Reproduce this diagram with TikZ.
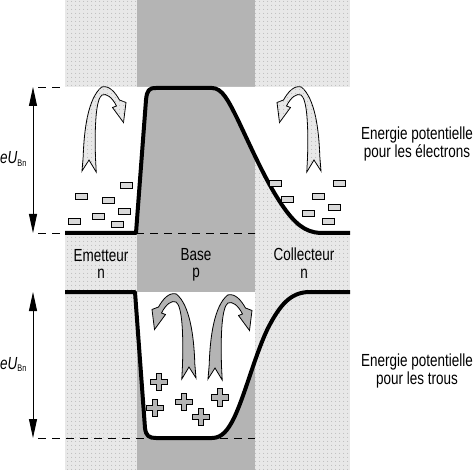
\documentclass[tikz,border=0pt]{standalone}
\usepackage{fontspec}
\setmainfont{Liberation Sans}[FakeStretch=0.77]
\usetikzlibrary{arrows.meta,patterns.meta}
\definecolor{stip}{RGB}{232,232,232}
\definecolor{dotc}{RGB}{165,165,165}
\definecolor{basegray}{RGB}{180,180,180}
\tikzset{
  stipple/.style={fill=stip, postaction={pattern={Dots[distance=4pt,radius=0.5pt]}, pattern color=dotc}},
  basefill/.style={fill=basegray},
  band/.style={line width=4pt, line join=round},
  guide/.style={line width=0.9pt, dash pattern=on 8pt off 6pt},
  dimarrow/.style={line width=0.9pt, {Triangle[length=19pt,width=8pt]}-{Triangle[length=19pt,width=8pt]}},
  electron/.style={draw=black, line width=0.8pt, fill=gray!30},
  holestyle/.style={draw=black, line width=0.9pt, fill=basegray},
  lbl/.style={inner sep=0pt, font=\fontsize{17.5}{17.5}\selectfont, align=center},
  ulbl/.style={inner sep=0pt, font=\fontsize{17.5}{17.5}\selectfont},
}
\newcommand\mybigarrow[1]{\filldraw[line width=0.8pt, #1] (82,171) -- (83.2,156.7) .. controls (84,130) and (88,98) .. (101.7,87) .. controls (109,85) and (115,92) .. (119.5,100) -- (126,102.5) -- (123.5,122.5) -- (112.5,107.5) -- (116.5,106) .. controls (112,97) and (106,93) .. (102,95) .. controls (96,99) and (94.5,125) .. (95.5,158) -- (96.2,172) -- (89,160) -- cycle;}
\newcommand\elec[1]{\draw[electron, shift={(#1)}] (-6,-3) rectangle (6,3);}
\newcommand\hole[1]{\filldraw[holestyle, shift={(#1)}] (-2.9,-8.7) -- (2.9,-8.7) -- (2.9,-2.9) -- (8.7,-2.9) -- (8.7,2.9) -- (2.9,2.9) -- (2.9,8.7) -- (-2.9,8.7) -- (-2.9,2.9) -- (-8.7,2.9) -- (-8.7,-2.9) -- (-2.9,-2.9) -- cycle;}
\begin{document}
\begin{tikzpicture}[x=1pt,y=-1pt]
\useasboundingbox (0,0) rectangle (474,473);
% columns
\path[stipple] (65,0) rectangle (137,470);
\path[basefill] (137,0) rectangle (255,470);
\path[stipple] (255,0) rectangle (350,470);
% white region above upper curve
\begin{scope}
\clip (65,87) rectangle (350,233);
\fill[white] (65,233) -- (136,233) -- (146,100) .. controls (147,90) and (149,88) .. (156,88) -- (212,88) .. controls (222,88) and (228,100) .. (237,118) .. controls (250,145) and (265,180) .. (282,205) .. controls (295,224) and (305,232) .. (320,233) -- (350,233) -- (350,87) -- (65,87) -- cycle;
\end{scope}
% white well in lower diagram
\begin{scope}
\clip (137,292) rectangle (255,470);
\fill[white] (135,292) -- (145,428) .. controls (146,436) and (149,438) .. (156,438) -- (212,438) .. controls (222,438) and (228,430) .. (234,418) .. controls (245,395) and (255,355) .. (268,328) .. controls (280,305) and (290,293) .. (308,292) -- cycle;
\end{scope}
% guides
\coordinate (g1a) at (38,87); \coordinate (g1b) at (65,87);
\coordinate (g2a) at (38,233); \coordinate (g2b) at (255,233);
\coordinate (g3a) at (38,438); \coordinate (g3b) at (255,438);
\draw[guide] (g1a) -- (g1b);
\draw[guide] (g2a) -- (g2b);
\draw[guide] (g3a) -- (g3b);
\coordinate (d1a) at (33,87); \coordinate (d1b) at (33,233);
\coordinate (d2a) at (33,292); \coordinate (d2b) at (33,438);
\draw[dimarrow] (d1a) -- (d1b);
\draw[dimarrow] (d2a) -- (d2b);
% band curves
\draw[band] (65,233) -- (136,233) -- (146,100) .. controls (147,90) and (149,88) .. (156,88) -- (212,88) .. controls (222,88) and (228,100) .. (237,118) .. controls (250,145) and (265,180) .. (282,205) .. controls (295,224) and (305,232) .. (320,233) -- (350,233);
\draw[band] (65,292) -- (135,292) -- (145,428) .. controls (146,436) and (149,438) .. (156,438) -- (212,438) .. controls (222,438) and (228,430) .. (234,418) .. controls (245,395) and (255,355) .. (268,328) .. controls (280,305) and (290,293) .. (308,292) -- (350,292);
% electrons
\elec{126,185} \elec{81.5,196} \elec{108,200} \elec{124.5,211} \elec{98.5,216} \elec{74.5,221} \elec{117.5,224}
\elec{275,183.5} \elec{339.5,183.5} \elec{287.5,199.5} \elec{318,196.5} \elec{334.5,207.5} \elec{308,213.5} \elec{328,221.5}
% holes
\hole{159,382} \hole{155,408} \hole{184,402} \hole{201,417} \hole{220,397.5}
% curved arrows
\mybigarrow{stipple}
\begin{scope}[shift={(403,0)}, xscale=-1]
\mybigarrow{stipple}
\end{scope}
\begin{scope}[shift={(278,207)}, xscale=-1]
\mybigarrow{basefill}
\end{scope}
\begin{scope}[shift={(126,208)}]
\mybigarrow{basefill}
\end{scope}
% labels
\node[lbl, anchor=north] (em) at (101,249) {Emetteur\\n};
\node[lbl, anchor=north] (ba) at (196,248) {Base\\p};
\node[lbl, anchor=north] (co) at (304,248) {Collecteur\\n};
\node[lbl, anchor=north] (el) at (417,127) {Energie potentielle\\pour les électrons};
\node[lbl, anchor=north] (tr) at (417,354) {Energie potentielle\\pour les trous};
\node[ulbl, anchor=base west] (u1) at (0,164) {\itshape eU\/\raisebox{-2.5pt}{\upshape\fontsize{9.5}{9.5}\selectfont Bn}};
\node[ulbl, anchor=base west] (u2) at (0,369) {\itshape eU\/\raisebox{-2.5pt}{\upshape\fontsize{9.5}{9.5}\selectfont Bn}};
\end{tikzpicture}
\end{document}
